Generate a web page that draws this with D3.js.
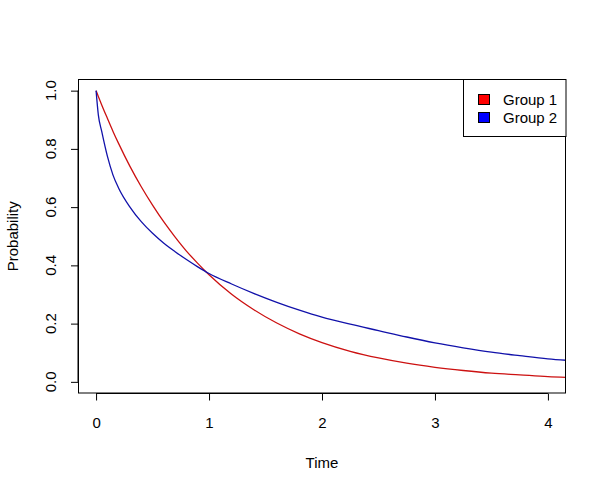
<!DOCTYPE html>
<html><head><meta charset="utf-8">
<script src="https://cdn.jsdelivr.net/npm/d3@7"></script>
<style>body{margin:0;background:#fff}svg{display:block}text{font-family:"Liberation Sans",Arial,sans-serif;fill:#000}</style>
</head><body><svg id="c" width="607" height="492"></svg>
<script>
const times = [0,0.02,0.05,0.1,0.15,0.2,0.3,0.4,0.5,0.6,0.7,0.8,0.9,1.0,1.2,1.4,1.6,1.8,2.0,2.25,2.5,2.75,3.0,3.25,3.5,3.75,4.0,4.2];
const group1 = [1,0.98,0.951,0.905,0.86,0.818,0.74,0.67,0.607,0.549,0.497,0.449,0.407,0.368,0.301,0.247,0.202,0.165,0.135,0.105,0.082,0.064,0.05,0.039,0.030,0.024,0.018,0.015];
const group2 = [1,0.917,0.86,0.775,0.71,0.665,0.60,0.55,0.51,0.476,0.447,0.420,0.395,0.372,0.336,0.303,0.273,0.246,0.222,0.198,0.176,0.154,0.134,0.117,0.102,0.090,0.079,0.073];
const seriesNames = ["Group 1","Group 2"];
const lineColors = ["#cc1111","#1111aa"];
const legendFills = ["#ff0000","#0000ff"];
const xTicks = [0,1,2,3,4];
const yTicks = [0,0.2,0.4,0.6,0.8,1.0];

const svg = d3.select("#c");
const L=78,R=566,T=79,B=393.5;
const x = d3.scaleLinear().domain([-0.16,4.16]).range([L,R]);
const y = d3.scaleLinear().domain([-0.04,1.04]).range([B,T]);

svg.append("rect").attr("width",607).attr("height",492).attr("fill","#fff");
svg.append("clipPath").attr("id","clip").append("rect").attr("x",L).attr("y",T).attr("width",R-L).attr("height",B-T);

const line = d3.line().x(d=>x(d[0])).y(d=>y(d[1])).curve(d3.curveMonotoneX);
[group1,group2].forEach((g,i)=>{
  svg.append("path").attr("clip-path","url(#clip)")
    .attr("d",line(times.map((t,j)=>[t,g[j]])))
    .attr("fill","none").attr("stroke",lineColors[i]).attr("stroke-width",1.3);
});

svg.append("rect").attr("x",L+0.5).attr("y",T+0.5).attr("width",R-L-1).attr("height",B-T-1)
  .attr("fill","none").attr("stroke","#000").attr("stroke-width",1);

// x axis
const xa = svg.append("g").attr("transform",`translate(0,${B})`)
  .call(d3.axisBottom(x).tickValues(xTicks).tickFormat(d3.format("d")).tickSize(7).tickPadding(17));
xa.select(".domain").remove();
xa.append("line").attr("x1",x(0)).attr("x2",x(4)).attr("stroke","#000");
xa.selectAll("text").attr("font-size",15).attr("font-family","Liberation Sans, Arial, sans-serif").attr("fill","#000");

// y axis
const ya = svg.append("g").attr("transform",`translate(${L},0)`)
  .call(d3.axisLeft(y).tickValues(yTicks).tickFormat(d3.format(".1f")).tickSize(7).tickPadding(0));
ya.select(".domain").remove();
ya.append("line").attr("y1",y(0)).attr("y2",y(1)).attr("stroke","#000");
ya.selectAll("text").attr("font-size",15).attr("font-family","Liberation Sans, Arial, sans-serif").attr("fill","#000")
  .attr("text-anchor","middle").attr("dy",0)
  .attr("transform",d=>`translate(-22,${y(d)}) rotate(-90)`).attr("x",0).attr("y",0)
  .attr("dominant-baseline","auto");
ya.selectAll(".tick").attr("transform",null);
ya.selectAll(".tick line").attr("transform",d=>`translate(0,${y(d)+0.5})`);

svg.append("text").attr("x",(L+R)/2).attr("y",468).attr("text-anchor","middle").attr("font-size",15).text("Time");
svg.append("text").attr("transform",`translate(18,${(T+B)/2}) rotate(-90)`).attr("text-anchor","middle").attr("font-size",15).text("Probability");

// legend
const lg = svg.append("g");
lg.append("rect").attr("x",463.5).attr("y",T+0.5).attr("width",R-463.5).attr("height",57)
  .attr("fill","#fff").attr("stroke","#000");
seriesNames.forEach((n,i)=>{
  const cy = 99.5 + i*18;
  lg.append("rect").attr("x",478.5).attr("y",cy-5).attr("width",11).attr("height",10)
    .attr("fill",legendFills[i]).attr("stroke","#000");
  lg.append("text").attr("x",503).attr("y",cy+5.5).attr("font-size",15).text(n);
});
</script></body></html>
